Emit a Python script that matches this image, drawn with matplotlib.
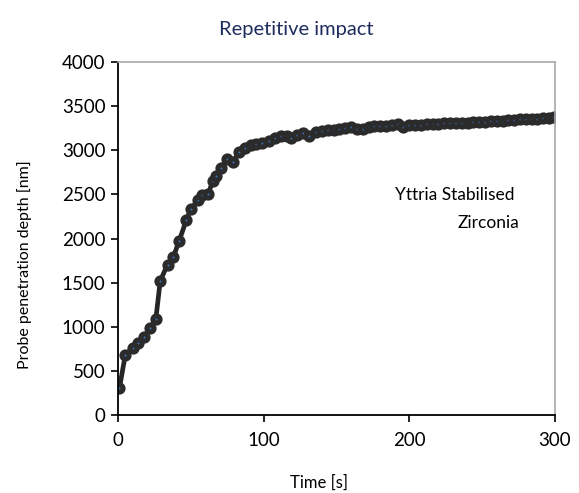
import matplotlib
matplotlib.use('Agg')
import matplotlib.pyplot as plt

plt.rcParams['font.family'] = ['Lato', 'DejaVu Sans']

# Time [s] and probe penetration depth [nm]
time_s = [1, 5, 10, 14, 18, 22, 26, 29, 34, 38, 42, 47, 50, 55, 58, 62, 65, 67, 71, 75,
          79, 83, 87, 91, 95, 99, 104, 108, 112, 116, 119, 123, 127, 131, 136, 140, 144,
          148, 152, 156, 160, 164, 168, 172, 176, 180, 184, 188, 192, 196, 200, 204, 208,
          212, 216, 220, 224, 228, 232, 236, 240, 244, 248, 252, 256, 260, 264, 268, 272,
          276, 280, 284, 288, 292, 296, 299]
depth_nm = [306, 681, 757, 821, 889, 984, 1090, 1521, 1705, 1790, 1975, 2213, 2338, 2432,
            2489, 2508, 2650, 2705, 2800, 2902, 2868, 2981, 3027, 3065, 3076, 3084, 3110,
            3140, 3167, 3159, 3140, 3178, 3197, 3167, 3205, 3216, 3227, 3235, 3242, 3250,
            3265, 3242, 3242, 3265, 3272, 3272, 3280, 3291, 3303, 3265, 3285, 3290, 3292,
            3295, 3300, 3302, 3305, 3308, 3312, 3310, 3315, 3318, 3322, 3325, 3328, 3332,
            3335, 3340, 3345, 3350, 3352, 3355, 3360, 3365, 3370, 3379]

x_ticks = [0, 100, 200, 300]
y_ticks = [0, 500, 1000, 1500, 2000, 2500, 3000, 3500, 4000]

fig = plt.figure(figsize=(5.79, 4.93), dpi=100)
ax = fig.add_axes([0.2038, 0.1582, 0.7547, 0.7158])

ax.plot(time_s, depth_nm, color='#262626', lw=3.4, marker='o', ms=5.2,
        mfc='#3b6fb6', mec='#2b2b2b', mew=3.6)

ax.set_xlim(0, 300)
ax.set_ylim(0, 4000)
ax.set_xticks(x_ticks)
ax.set_yticks(y_ticks)
ax.tick_params(axis='both', direction='out', length=5, width=1.2, labelsize=13.5, colors='black')
ax.tick_params(axis='x', pad=7)
ax.tick_params(axis='y', pad=4)

for s in ['left', 'bottom']:
    ax.spines[s].set_color('black')
    ax.spines[s].set_linewidth(1.3)
for s in ['top', 'right']:
    ax.spines[s].set_color('#a8a8a8')
    ax.spines[s].set_linewidth(1.2)

fig.text(319 / 579, 1 - 483 / 493, 'Time [s]', ha='center', va='center', fontsize=12)
fig.text(25 / 579, 1 - 265 / 493, 'Probe penetration depth [nm]', ha='center', va='center',
         rotation=90, fontsize=11.5)
fig.text(296 / 579, 1 - 30 / 493, 'Repetitive impact', ha='center', va='center',
         fontsize=14.5, color='#1e2c5e')

ax.text(190, 2497, 'Yttria Stabilised', ha='left', va='center', fontsize=12.5)
ax.text(233, 2179, 'Zirconia', ha='left', va='center', fontsize=12.5)

fig.savefig('out.png', dpi=100)
